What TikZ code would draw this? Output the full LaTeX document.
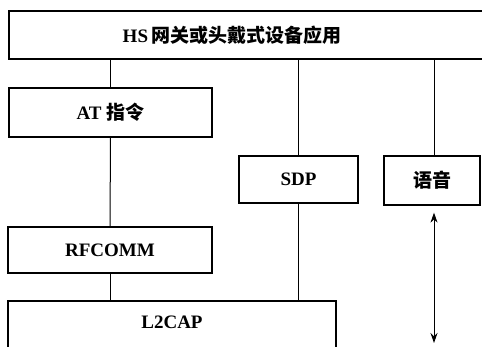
\documentclass[tikz,border=0pt]{standalone}
\usepackage{fontspec}
\setmainfont{Liberation Serif}
\newfontfamily\cjk{Noto Sans CJK SC}
\usetikzlibrary{arrows.meta}
\begin{document}
\begin{tikzpicture}[x=1pt,y=-1pt,
  box/.style={draw,line width=1.3pt,inner sep=0pt,font=\fontsize{19}{19}\selectfont\bfseries},
  conn/.style={line width=1pt},
  lbl/.style={inner sep=0pt,font=\fontsize{19}{19}\selectfont\bfseries}]
\useasboundingbox (0,0) rectangle (482,346);
\node[box,minimum width=481pt,minimum height=48pt] (app) at (249.5,35) {};
\node[lbl] (apptext) at (232,35) {HS\,{\cjk\bfseries 网关或头戴式设备应用}};
\node[box,minimum width=203pt,minimum height=49pt] (at) at (110.5,112.5) {AT {\cjk\bfseries 指令}};
\node[box,minimum width=204pt,minimum height=46pt] (rf) at (110,250) {RFCOMM};
\node[box,minimum width=328pt,minimum height=60pt] (l2) at (172,331) {};
\node[lbl] (l2text) at (172,322) {L2CAP};
\node[box,minimum width=119pt,minimum height=47pt] (sdp) at (298.5,179.5) {SDP};
\node[box,minimum width=96pt,minimum height=49pt] (voice) at (432,180.5) {\cjk\bfseries 语音};
\coordinate (abot) at (434,343);
\draw[conn] (at.north) -- (at.north |- app.south);
\draw[conn] (at.south) -- (rf.north);
\draw[conn] (rf.south) -- (rf.south |- l2.north);
\draw[conn] (sdp.north) -- (sdp.north |- app.south);
\draw[conn] (sdp.south) -- (sdp.south |- l2.north);
\draw[conn] ([xshift=2pt]voice.north) -- ([xshift=2pt]voice.north |- app.south);
\draw[conn,{Stealth[length=10pt,width=7pt]}-{Stealth[length=10pt,width=7pt]}] ([xshift=2pt,yshift=-7pt]voice.south) -- ([xshift=2pt]voice.south |- abot);
\end{tikzpicture}
\end{document}
